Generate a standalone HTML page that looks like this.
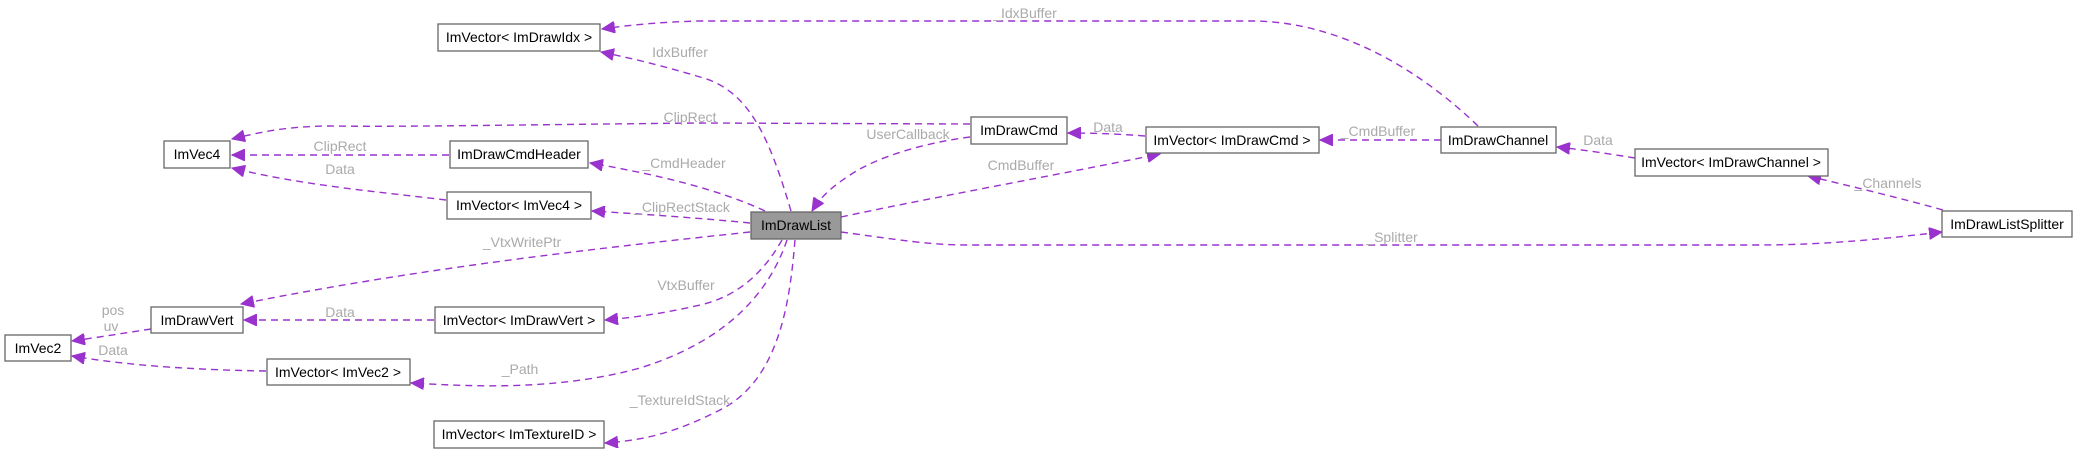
<!DOCTYPE html>
<html><head><meta charset="utf-8"><style>
html,body{margin:0;padding:0;background:#fff;}
svg{display:block;}
.b{fill:#fff;stroke:#666;stroke-width:1.3;}
.t{font-family:"Liberation Sans",Arial,sans-serif;font-size:14px;fill:#000;text-anchor:middle;}
.l{font-family:"Liberation Sans",Arial,sans-serif;font-size:14px;fill:#aaa;text-anchor:middle;}
.e{fill:none;stroke:#9a32cd;stroke-width:1.4;stroke-dasharray:7,5;}
</style></head><body>
<svg width="2077" height="453" viewBox="0 0 2077 453" xmlns="http://www.w3.org/2000/svg">
<defs>
<marker id="a" markerUnits="userSpaceOnUse" markerWidth="14" markerHeight="12" refX="13" refY="6" orient="auto">
<path d="M0,0 L13,6 L0,12 Z" fill="#9a32cd" stroke="#9a32cd"/>
</marker>
</defs>

<!-- edges -->
<path class="e" marker-end="url(#a)" d="M791,211 C770,140 750,90 700,77 C670,68 640,60 601,52"/>
<path class="e" marker-end="url(#a)" d="M1478,126 C1420,70 1340,22 1254,21 L700,21 C660,22 630,25 602,29"/>
<path class="e" marker-end="url(#a)" d="M970,124 L700,123 C500,125 400,127 330,126 C290,126 260,132 232,139"/>
<path class="e" marker-end="url(#a)" d="M449,155 L232,155"/>
<path class="e" marker-end="url(#a)" d="M446,200 C380,192 300,185 232,168"/>
<path class="e" marker-end="url(#a)" d="M765,211 C720,190 660,175 590,163"/>
<path class="e" marker-end="url(#a)" d="M750,223 C700,218 640,214 592,211"/>
<path class="e" marker-end="url(#a)" d="M750,232 C600,248 420,268 241,304"/>
<path class="e" marker-end="url(#a)" d="M434,320 L244,320"/>
<path class="e" marker-end="url(#a)" d="M151,329 C125,333 100,337 72,341"/>
<path class="e" marker-end="url(#a)" d="M266,371 C200,370 130,366 72,356"/>
<path class="e" marker-end="url(#a)" d="M782,240 C765,270 740,296 700,305 C670,312 640,317 605,320"/>
<path class="e" marker-end="url(#a)" d="M787,240 C770,290 730,340 640,368 C560,390 480,387 411,383"/>
<path class="e" marker-end="url(#a)" d="M795,240 C790,300 780,380 720,410 C680,430 650,440 605,443"/>
<path class="e" marker-end="url(#a)" d="M970,137 C930,142 880,155 850,175 C830,188 820,198 812,211"/>
<path class="e" marker-end="url(#a)" d="M841,217 C920,200 1040,178 1160,154"/>
<path class="e" marker-end="url(#a)" d="M1145,136 C1120,134 1095,133 1068,133"/>
<path class="e" marker-end="url(#a)" d="M1441,140 L1320,140"/>
<path class="e" marker-end="url(#a)" d="M1635,158 C1610,154 1585,150 1557,147"/>
<path class="e" marker-end="url(#a)" d="M1943,210 C1900,198 1850,186 1808,176"/>
<path class="e" marker-end="url(#a)" d="M841,232 C900,240 930,245 968,245 L1758,245 C1830,245 1890,238 1942,232"/>

<!-- labels -->
<text class="l" x="680" y="57">IdxBuffer</text>
<text class="l" x="1025" y="18">_IdxBuffer</text>
<text class="l" x="690" y="122">ClipRect</text>
<text class="l" x="340" y="151">ClipRect</text>
<text class="l" x="340" y="174">Data</text>
<text class="l" x="684" y="168">_CmdHeader</text>
<text class="l" x="682" y="212">_ClipRectStack</text>
<text class="l" x="522" y="247">_VtxWritePtr</text>
<text class="l" x="340" y="317">Data</text>
<text class="l" x="113" y="315">pos</text>
<text class="l" x="111" y="331">uv</text>
<text class="l" x="113" y="355">Data</text>
<text class="l" x="686" y="290">VtxBuffer</text>
<text class="l" x="520" y="374">_Path</text>
<text class="l" x="680" y="405">_TextureIdStack</text>
<text class="l" x="908" y="139">UserCallback</text>
<text class="l" x="1021" y="170">CmdBuffer</text>
<text class="l" x="1108" y="132">Data</text>
<text class="l" x="1378" y="136">_CmdBuffer</text>
<text class="l" x="1598" y="145">Data</text>
<text class="l" x="1888" y="188">_Channels</text>
<text class="l" x="1392" y="242">_Splitter</text>

<!-- nodes -->
<rect class="b" x="438" y="24" width="162" height="27"/><text class="t" x="519" y="42">ImVector&lt; ImDrawIdx &gt;</text>
<rect class="b" x="164" y="141" width="66" height="27"/><text class="t" x="197" y="159">ImVec4</text>
<rect class="b" x="450" y="141" width="138" height="27"/><text class="t" x="519" y="159">ImDrawCmdHeader</text>
<rect class="b" x="447" y="192" width="144" height="27"/><text class="t" x="519" y="210">ImVector&lt; ImVec4 &gt;</text>
<rect class="b" x="151" y="307" width="92" height="26"/><text class="t" x="197" y="325">ImDrawVert</text>
<rect class="b" x="435" y="307" width="169" height="26"/><text class="t" x="519" y="325">ImVector&lt; ImDrawVert &gt;</text>
<rect class="b" x="5" y="335" width="66" height="26"/><text class="t" x="38" y="353">ImVec2</text>
<rect class="b" x="267" y="359" width="143" height="26"/><text class="t" x="338" y="377">ImVector&lt; ImVec2 &gt;</text>
<rect class="b" x="434" y="421" width="170" height="27"/><text class="t" x="519" y="439">ImVector&lt; ImTextureID &gt;</text>
<rect x="751" y="212" width="90" height="27" fill="#999" stroke="#666" stroke-width="1.3"/><text class="t" x="796" y="230">ImDrawList</text>
<rect class="b" x="971" y="117" width="96" height="27"/><text class="t" x="1019" y="135">ImDrawCmd</text>
<rect class="b" x="1146" y="127" width="173" height="26"/><text class="t" x="1232" y="145">ImVector&lt; ImDrawCmd &gt;</text>
<rect class="b" x="1441" y="127" width="115" height="26"/><text class="t" x="1498" y="145">ImDrawChannel</text>
<rect class="b" x="1635" y="149" width="193" height="27"/><text class="t" x="1731" y="167">ImVector&lt; ImDrawChannel &gt;</text>
<rect class="b" x="1942" y="211" width="130" height="26"/><text class="t" x="2007" y="229">ImDrawListSplitter</text>
</svg>
</body></html>
